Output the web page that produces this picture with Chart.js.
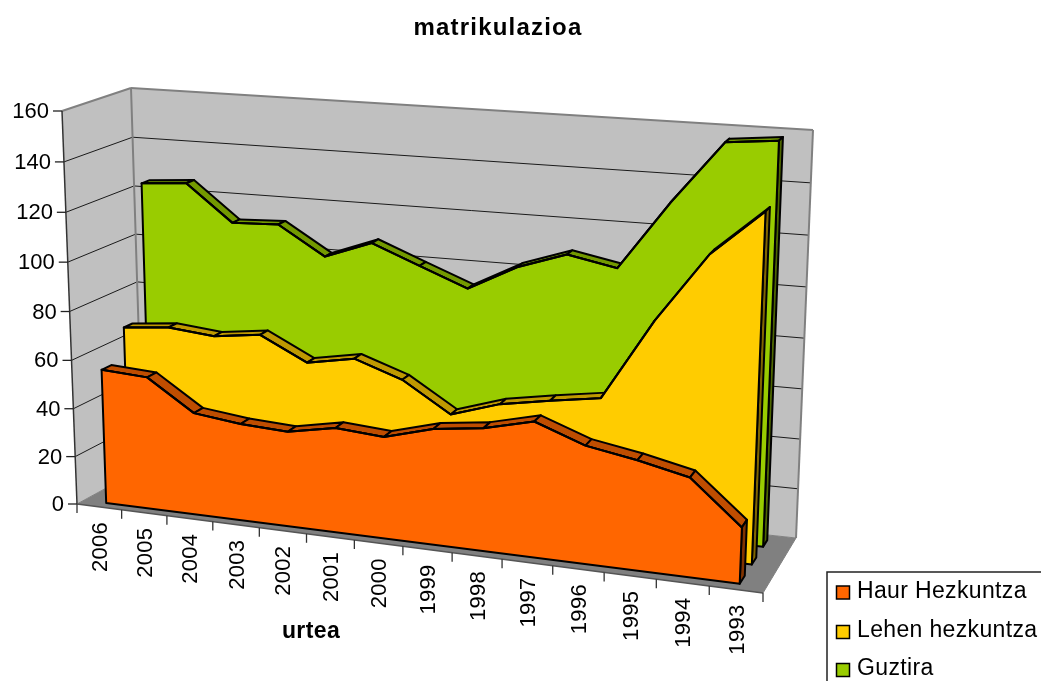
<!DOCTYPE html>
<html>
<head>
<meta charset="utf-8">
<style>html,body{margin:0;padding:0;background:#fff;overflow:hidden}canvas{display:block}</style>
<script src="https://cdn.jsdelivr.net/npm/chart.js@4/dist/chart.umd.min.js"></script>
</head>
<body>
<canvas id="c" width="1041" height="681"></canvas>
<script>
// ---- data ----
const categories = ['2006','2005','2004','2003','2002','2001','2000','1999','1998','1997','1996','1995','1994','1993'];
const haurHezkuntza = [55.7,54.6,42,39.7,38.7,42.4,41,46.3,48.8,53.6,46.4,43,38.6,21.8];
const lehenHezkuntza = [68.6,70.4,68.6,71,61.5,65,58.4,46.4,52.6,56,59,91,118,135.5];
const guztira = [124,125.4,110.7,111.5,100,107,99.4,91.9,102,108.6,104.8,131.7,155.9,157.8];
const yTicksMax = 160, yTickStep = 20;
const titleText = 'matrikulazioa', xTitleText = 'urtea';

// ---- styling / view of the 3D box ----
const FONT = '"Liberation Sans", Arial, sans-serif';
const box = {
  fbl:[77,504], ftl:[62,111], fbr:[763,593], ftr:[781,161],
  bbl:[143,468], btl:[131,88], bbr:[796,538], btr:[813,130]
};
const warpU = 0.905, warpV = 0.96;
const layers = [
  {z0:.107, z1:.255, top:'#BF4D00', side:'#803300'},
  {z0:.46,  z1:.59,  top:'#BF9900', side:'#806600'},
  {z0:.79,  z1:.91,  top:'#739900', side:'#4D6600'}
];
const lerp=(a,b,t)=>[a[0]+(b[0]-a[0])*t,a[1]+(b[1]-a[1])*t];
const warp=(t,w)=>t*w/(1+t*(w-1));
function proj(u,v,z){
  const su=warp(u,warpU), sv=warp(v,warpV);
  const f=lerp(lerp(box.fbl,box.fbr,su),lerp(box.ftl,box.ftr,su),sv);
  const b=lerp(lerp(box.bbl,box.bbr,su),lerp(box.btl,box.btr,su),sv);
  return lerp(f,b,z);
}
function poly(ctx,pts,fill,stroke,lw){
  ctx.beginPath();
  pts.forEach((p,i)=>i?ctx.lineTo(p[0],p[1]):ctx.moveTo(p[0],p[1]));
  ctx.closePath();
  if(fill){ctx.fillStyle=fill;ctx.fill();}
  if(stroke){ctx.strokeStyle=stroke;ctx.lineWidth=lw;ctx.stroke();}
}
function seg(ctx,a,b,color,lw){
  ctx.beginPath();ctx.moveTo(a[0],a[1]);ctx.lineTo(b[0],b[1]);
  ctx.strokeStyle=color;ctx.lineWidth=lw;ctx.stroke();
}
const norm=(chart)=>{
  const a=chart.chartArea;
  return {
    u:px=>(px-a.left)/(a.right-a.left),
    v:py=>(a.bottom-py)/(a.bottom-a.top)
  };
};

const view3d = {
  id:'view3d',
  afterDatasetsUpdate(chart){
    const n=norm(chart), xs=chart.scales.x, ys=chart.scales.y;
    chart.data.datasets.forEach((ds,d)=>{
      const meta=chart.getDatasetMeta(d), L=layers[d];
      meta.data.forEach((pt,i)=>{
        const u=n.u(xs.getPixelForValue(i));
        const v=n.v(ys.getPixelForValue(ds.data[i]));
        const v0=n.v(ys.getPixelForValue(0));
        const f=proj(u,v,L.z0);
        pt.$tf=f; pt.$tb=proj(u,v,L.z1);
        pt.$bf=proj(u,v0,L.z0); pt.$bb=proj(u,v0,L.z1);
        pt.x=f[0]; pt.y=f[1];
      });
    });
  },
  beforeDatasetsDraw(chart){
    const ctx=chart.ctx, n=norm(chart), ys=chart.scales.y;
    ctx.save();
    ctx.lineJoin='round';
    // walls and floor
    poly(ctx,[proj(0,0,0),proj(1,0,0),proj(1,0,1),proj(0,0,1)],'#808080');
    poly(ctx,[proj(0,0,0),proj(0,1,0),proj(0,1,1),proj(0,0,1)],'#C0C0C0');
    poly(ctx,[proj(0,0,1),proj(1,0,1),proj(1,1,1),proj(0,1,1)],'#C0C0C0');
    // horizontal grid lines from the y scale's ticks
    ys.ticks.forEach(t=>{
      const v=n.v(ys.getPixelForValue(t.value));
      if(v>0 && v<1){
        seg(ctx,proj(0,v,0),proj(0,v,1),'#1a1a1a',1);
        seg(ctx,proj(0,v,1),proj(1,v,1),'#1a1a1a',1);
      }
    });
    // wall edges
    seg(ctx,proj(0,1,0),proj(0,1,1),'#808080',2);
    seg(ctx,proj(0,1,1),proj(1,1,1),'#808080',2);
    seg(ctx,proj(0,1,1),proj(0,0,1),'#808080',2);
    seg(ctx,proj(1,1,1),proj(1,0,1),'#808080',2);
    seg(ctx,proj(1,0,1),proj(0,0,1),'#808080',1);
    seg(ctx,proj(1,0,0),proj(1,0,1),'#808080',1);
    seg(ctx,proj(0,0,0),proj(0,0,1),'#808080',1);
    // axes
    seg(ctx,proj(0,1,0),proj(0,0,0),'#333',1.5);
    seg(ctx,proj(0,0,0),proj(1,0,0),'#555',1.5);
    ctx.restore();
  },
  beforeDatasetDraw(chart,args){
    const ctx=chart.ctx, meta=chart.getDatasetMeta(args.index), L=layers[args.index];
    const pts=meta.data, last=pts[pts.length-1];
    ctx.save();
    ctx.lineJoin='round';
    // top ribbon
    for(let i=0;i<pts.length-1;i++){
      poly(ctx,[pts[i].$tf,pts[i+1].$tf,pts[i+1].$tb,pts[i].$tb],L.top,'#000',2);
    }
    // right end face
    poly(ctx,[last.$tf,last.$tb,last.$bb,last.$bf],L.side,'#000',2);
    // front face
    const front=pts.map(p=>p.$tf).concat([last.$bf,pts[0].$bf]);
    poly(ctx,front,chart.data.datasets[args.index].backgroundColor,'#000',2);
    ctx.restore();
  },
  afterDatasetsDraw(chart){
    const ctx=chart.ctx, n=norm(chart), ys=chart.scales.y, xs=chart.scales.x;
    ctx.save();
    ctx.fillStyle='#000';
    // y ticks + labels
    ctx.font='22px '+FONT;
    ctx.textAlign='right';ctx.textBaseline='middle';
    ys.ticks.forEach(t=>{
      const p=proj(0,n.v(ys.getPixelForValue(t.value)),0);
      seg(ctx,[p[0]-9,p[1]],p,'#222',1.3);
      ctx.fillStyle='#000';
      ctx.fillText(String(t.value),p[0]-13,p[1]+1);
    });
    // x ticks (slot borders) + rotated labels
    const count=categories.length;
    for(let i=0;i<=count;i++){
      const p=proj(i/count,0,0);
      seg(ctx,p,[p[0],p[1]+9],'#333',1.3);
    }
    xs.ticks.forEach((t,i)=>{
      const p=proj(n.u(xs.getPixelForValue(i)),0,0);
      ctx.save();
      ctx.translate(p[0]+1.5,p[1]+15);
      ctx.rotate(-Math.PI/2);
      ctx.textAlign='right';ctx.textBaseline='middle';
      ctx.fillStyle='#000';
      ctx.letterSpacing='0.3px';
      ctx.fillText(xs.getLabelForValue(t.value),0,0);
      ctx.restore();
    });
    // titles
    ctx.textAlign='center';ctx.textBaseline='alphabetic';ctx.fillStyle='#000';
    ctx.font='bold 24px '+FONT;
    ctx.letterSpacing='1.2px';
    ctx.fillText(titleText,498,35);
    ctx.font='bold 23px '+FONT;
    ctx.letterSpacing='0.4px';
    ctx.fillText(xTitleText,311,638);
    ctx.letterSpacing='0px';
    // legend
    ctx.strokeStyle='#222';ctx.lineWidth=1.5;
    ctx.beginPath();ctx.moveTo(827,700);ctx.lineTo(827,572);ctx.lineTo(1060,572);ctx.stroke();
    const rows=[592.5,632,670];
    ctx.font='23px '+FONT;ctx.textAlign='left';ctx.textBaseline='alphabetic';
    chart.data.datasets.forEach((ds,i)=>{
      ctx.fillStyle=ds.backgroundColor;
      ctx.fillRect(836.5,rows[i]-6.5,13,13);
      ctx.strokeStyle='#000';ctx.lineWidth=1.5;
      ctx.strokeRect(836.5,rows[i]-6.5,13,13);
      ctx.fillStyle='#000';
      ctx.letterSpacing='0.35px';
      ctx.fillText(ds.label,857,rows[i]+5);
      ctx.letterSpacing='0px';
    });
    ctx.restore();
  }
};

new Chart(document.getElementById('c'),{
  type:'line',
  data:{
    labels:categories,
    datasets:[
      {label:'Haur Hezkuntza',data:haurHezkuntza,backgroundColor:'#FF6600',borderColor:'#000',borderWidth:2,pointRadius:0,fill:false,tension:0,clip:false},
      {label:'Lehen hezkuntza',data:lehenHezkuntza,backgroundColor:'#FFCC00',borderColor:'#000',borderWidth:2,pointRadius:0,fill:false,tension:0,clip:false},
      {label:'Guztira',data:guztira,backgroundColor:'#99CC00',borderColor:'#000',borderWidth:2,pointRadius:0,fill:false,tension:0,clip:false}
    ]
  },
  options:{
    responsive:false,
    animation:false,
    layout:{padding:0},
    plugins:{legend:{display:false},title:{display:false},tooltip:{enabled:false}},
    scales:{
      x:{type:'category',offset:true,display:false},
      y:{type:'linear',min:0,max:yTicksMax,ticks:{stepSize:yTickStep},display:false}
    }
  },
  plugins:[view3d]
});
</script>
</body>
</html>
